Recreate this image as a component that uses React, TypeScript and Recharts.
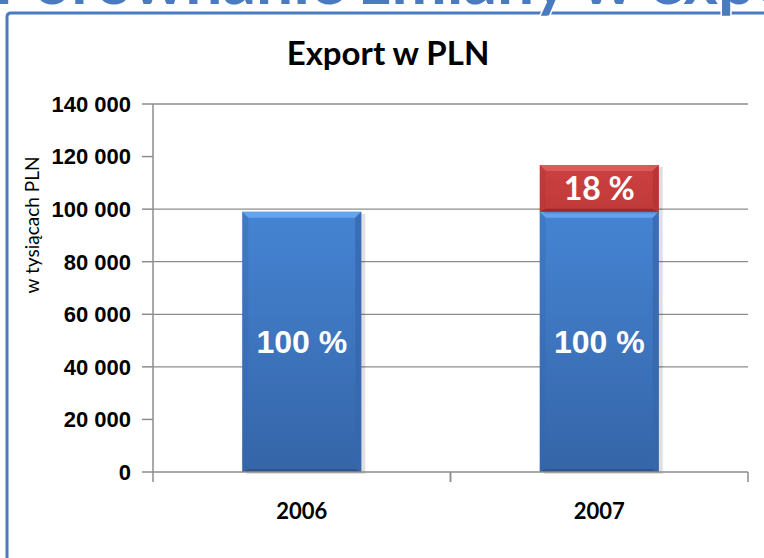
import { BarChart, Bar, XAxis, YAxis, CartesianGrid, LabelList } from 'recharts';

const years = ['2006', '2007'];
const baseValues = [99000, 99000];
const growthValues = [null, 17800];
const baseLabels = ['100 %', '100 %'];
const growthLabels = ['', '18 %'];
const yTicks = [0, 20000, 40000, 60000, 80000, 100000, 120000, 140000];
const gridValues = [40000, 60000, 80000, 100000, 140000];

const data = years.map((year, i) => ({
  year,
  base: baseValues[i],
  growth: growthValues[i],
  baseLabel: baseLabels[i],
  growthLabel: growthLabels[i],
}));

const BLUE = '#4a7abf';
const calibri = 'Lato, "Open Sans", sans-serif';
const arial = '"Liberation Sans", Arial, sans-serif';

const fmt = (v: number) => String(v).replace(/\B(?=(\d{3})+(?!\d))/g, ' ');

const tones: Record<string, { top: string; side: string; bottom: string }> = {
  blue: { top: '#64a3ee', side: '#3768ad', bottom: '#2d5690' },
  red: { top: '#de5a58', side: '#b13434', bottom: '#952b2b' },
};

function BevelBar(props: any) {
  const { x, y, width, height, tone } = props;
  if (!height || height <= 0) return null;
  const c = tones[tone];
  const b = 6;
  return (
    <g>
      <rect x={x + 4} y={y + 2} width={width} height={height} fill="#000" opacity={0.12} />
      <rect x={x} y={y} width={width} height={height} fill={`url(#grad-${tone})`} />
      <polygon
        points={`${x},${y} ${x + width},${y} ${x + width - b},${y + b} ${x + b},${y + b}`}
        fill={c.top}
      />
      <polygon
        points={`${x},${y} ${x + b},${y + b} ${x + b},${y + height - b} ${x},${y + height}`}
        fill={c.side}
        opacity={0.35}
      />
      <polygon
        points={`${x + width},${y} ${x + width - b},${y + b} ${x + width - b},${y + height - b} ${x + width},${y + height}`}
        fill={c.side}
        opacity={0.8}
      />
      <polygon
        points={`${x},${y + height} ${x + b},${y + height - b / 2} ${x + width - b},${y + height - b / 2} ${x + width},${y + height}`}
        fill={c.bottom}
      />
    </g>
  );
}

function YearTick(props: any) {
  const { x, y, payload } = props;
  const off = payload.offset ?? 0;
  return (
    <g>
      <line x1={x - off} x2={x - off} y1={y} y2={y + 10} stroke="#8c8c8c" strokeWidth={1.5} />
      <line x1={x + off} x2={x + off} y1={y} y2={y + 10} stroke="#8c8c8c" strokeWidth={1.5} />
      <text x={x} y={y + 47} textAnchor="middle" fontFamily={calibri} fontWeight="bold" fontSize={22} fill="#000">
        {payload.value}
      </text>
    </g>
  );
}

export default function App() {
  return (
    <div style={{ position: 'absolute', left: 0, top: 0, width: 764, height: 558, overflow: 'hidden', background: '#fff' }}>
      <BarChart
        width={764}
        height={558}
        data={data}
        barCategoryGap="30%"
        margin={{ top: 104, right: 16, bottom: 26, left: 0 }}
      >
        <defs>
          <linearGradient id="grad-blue" x1="0" y1="0" x2="0" y2="1">
            <stop offset="0%" stopColor="#4584d3" />
            <stop offset="100%" stopColor="#3565a8" />
          </linearGradient>
          <linearGradient id="grad-red" x1="0" y1="0" x2="0" y2="1">
            <stop offset="0%" stopColor="#cc4040" />
            <stop offset="100%" stopColor="#c03a3a" />
          </linearGradient>
        </defs>
        <CartesianGrid vertical={false} horizontalValues={gridValues} stroke="#8c8c8c" strokeWidth={1.3} />
        <XAxis
          dataKey="year"
          height={60}
          tickLine={false}
          tickSize={0}
          tickMargin={0}
          axisLine={{ stroke: '#8c8c8c', strokeWidth: 1.5 }}
          tick={<YearTick />}
        />
        <YAxis
          width={153}
          domain={[0, 140000]}
          ticks={yTicks}
          tickFormatter={fmt}
          tickSize={11}
          tickMargin={11}
          axisLine={{ stroke: '#8c8c8c', strokeWidth: 1.5 }}
          tickLine={{ stroke: '#8c8c8c', strokeWidth: 1.5 }}
          tick={{ fontFamily: arial, fontWeight: 'bold', fontSize: 22, fill: '#000' }}
        />
        <Bar dataKey="base" stackId="a" isAnimationActive={false} shape={(p: any) => <BevelBar {...p} tone="blue" />}>
          <LabelList dataKey="baseLabel" position="center" fill="#fff" fontFamily={arial} fontWeight="bold" fontSize={32} />
        </Bar>
        <Bar dataKey="growth" stackId="a" isAnimationActive={false} shape={(p: any) => <BevelBar {...p} tone="red" />}>
          <LabelList dataKey="growthLabel" position="center" fill="#fff" fontFamily={calibri} fontWeight="bold" fontSize={32} />
        </Bar>
      </BarChart>
      <svg width={764} height={558} style={{ position: 'absolute', left: 0, top: 0, pointerEvents: 'none' }}>
        <path d="M7,558 V17 Q7,13 11,13 H764" fill="none" stroke={BLUE} strokeWidth={3} />
        <text
          x={-6}
          y={4}
          fontFamily={calibri}
          fontWeight="bold"
          fontSize={66}
          fill={BLUE}
          stroke="#fff"
          strokeWidth={3}
          paintOrder="stroke"
        >
          Porównanie zmiany w exporcie
        </text>
        <text x={388} y={65} textAnchor="middle" fontFamily={calibri} fontWeight="bold" fontSize={33} fill="#000">
          Export w PLN
        </text>
        <text
          x={39}
          y={225}
          transform="rotate(-90 39 225)"
          textAnchor="middle"
          fontFamily={calibri}
          fontSize={19}
          fill="#000"
        >
          w tysiącach PLN
        </text>
      </svg>
    </div>
  );
}
